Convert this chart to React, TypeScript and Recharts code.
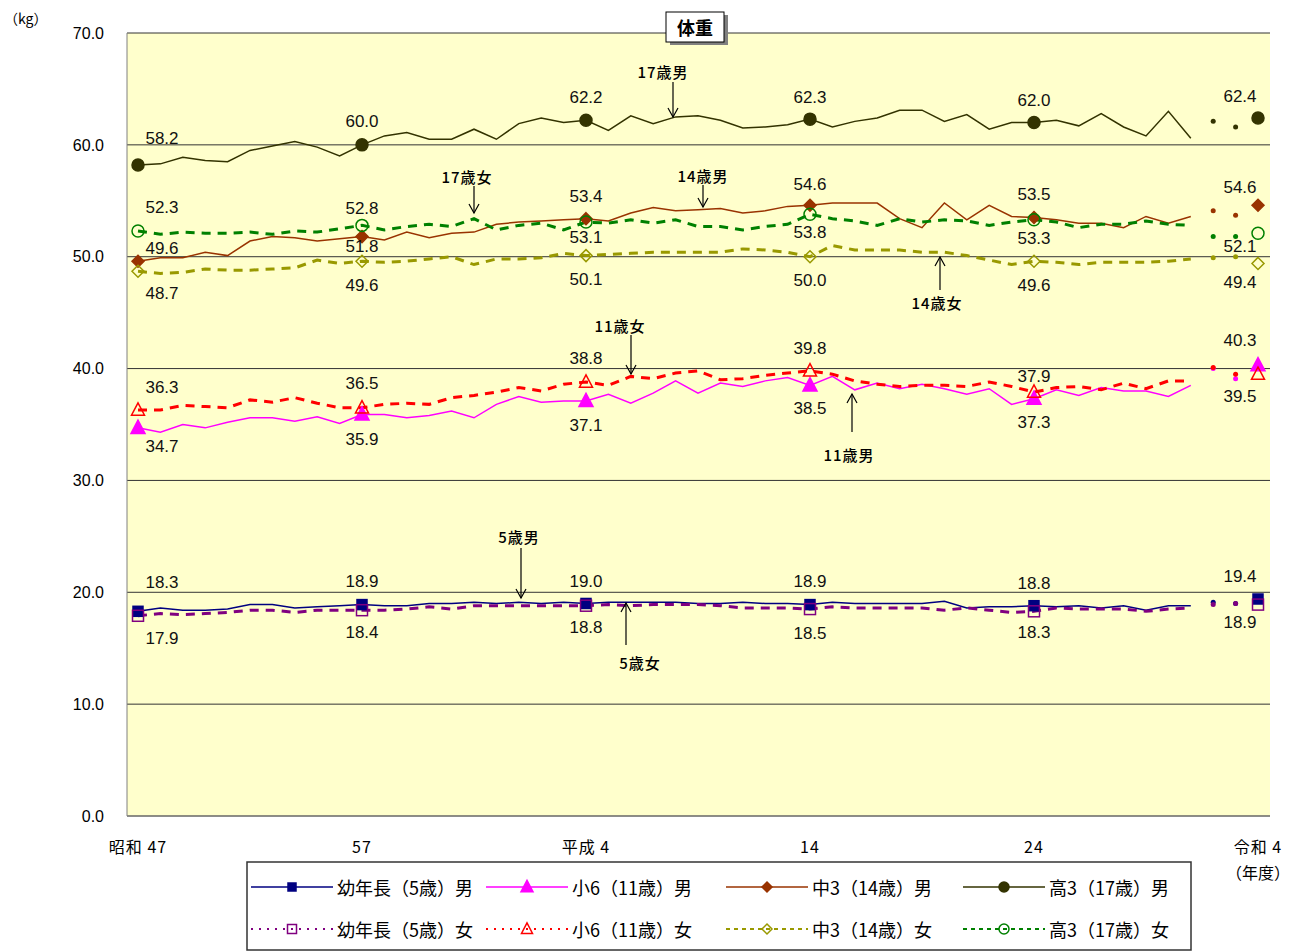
import React from "react";
import { LineChart, Line, XAxis, YAxis, CartesianGrid } from "recharts";

// 昭和47年度〜令和4年度
const years = [
  1972, 1973, 1974, 1975, 1976, 1977, 1978, 1979, 1980, 1981,
  1982, 1983, 1984, 1985, 1986, 1987, 1988, 1989, 1990, 1991,
  1992, 1993, 1994, 1995, 1996, 1997, 1998, 1999, 2000, 2001,
  2002, 2003, 2004, 2005, 2006, 2007, 2008, 2009, 2010, 2011,
  2012, 2013, 2014, 2015, 2016, 2017, 2018, 2019, 2020, 2021,
  2022,
];

const xTickLabels: Record<number, string> = {
  1972: "昭和 47",
  1982: "57",
  1992: "平成 4",
  2002: "14",
  2012: "24",
  2022: "令和 4",
};

const yTicks = [0, 10, 20, 30, 40, 50, 60, 70];

const male5 = [
  18.3, 18.6, 18.4, 18.4, 18.5, 18.9, 18.9, 18.6, 18.7, 18.8,
  18.9, 18.8, 18.8, 19.0, 19.0, 19.1, 19.0, 19.1, 19.0, 19.1,
  19.0, 19.1, 19.1, 19.1, 19.1, 19.0, 19.0, 19.1, 19.0, 19.0,
  18.9, 19.1, 19.0, 19.0, 19.0, 19.0, 19.2, 18.6, 18.7, 18.7,
  18.8, 18.7, 18.8, 18.6, 18.8, 18.4, 18.8, 18.8, 19.1, 19.0,
  19.4,
];
const female5 = [
  17.9, 18.1, 18.0, 18.1, 18.2, 18.4, 18.4, 18.2, 18.4, 18.4,
  18.4, 18.4, 18.5, 18.7, 18.5, 18.8, 18.8, 18.8, 18.8, 18.8,
  18.8, 18.9, 18.8, 18.9, 18.9, 18.9, 18.8, 18.6, 18.6, 18.6,
  18.5, 18.7, 18.6, 18.6, 18.6, 18.6, 18.4, 18.6, 18.4, 18.2,
  18.3, 18.6, 18.5, 18.5, 18.5, 18.3, 18.5, 18.6, 18.9, 19.0,
  18.9,
];
const male11 = [
  34.7, 34.3, 35.0, 34.7, 35.2, 35.6, 35.6, 35.3, 35.7, 35.1,
  35.9, 35.9, 35.6, 35.8, 36.2, 35.6, 36.8, 37.5, 37.0, 37.1,
  37.1, 37.7, 36.9, 37.8, 38.9, 37.8, 38.7, 38.4, 38.9, 39.2,
  38.5, 39.3, 38.1, 38.7, 38.2, 38.6, 38.2, 37.7, 38.2, 36.8,
  37.3, 38.1, 37.6, 38.3, 38.0, 38.0, 37.5, 38.5, 40.0, 39.1,
  40.3,
];
const female11 = [
  36.3, 36.3, 36.7, 36.6, 36.5, 37.2, 37.0, 37.4, 36.9, 36.5,
  36.5, 36.8, 36.9, 36.8, 37.4, 37.6, 37.9, 38.3, 38.0, 38.6,
  38.8, 38.5, 39.3, 39.1, 39.6, 39.8, 39.0, 39.1, 39.4, 39.6,
  39.8, 39.5, 38.9, 38.6, 38.4, 38.5, 38.5, 38.4, 38.8, 38.4,
  37.9, 38.3, 38.4, 38.1, 38.7, 38.2, 38.9, 38.9, 40.1, 39.5,
  39.5,
];
const male14 = [
  49.6, 49.9, 49.9, 50.4, 50.1, 51.4, 51.8, 51.7, 51.4, 51.6,
  51.8, 51.5, 52.2, 51.7, 52.1, 52.2, 52.9, 53.1, 53.2, 53.3,
  53.4, 53.2, 53.9, 54.4, 54.1, 54.2, 54.3, 53.9, 54.1, 54.5,
  54.6, 54.8, 54.8, 54.8, 53.4, 52.6, 54.8, 53.3, 54.6, 53.6,
  53.5, 53.3, 53.0, 53.0, 52.6, 53.6, 53.0, 53.6, 54.1, 53.7,
  54.6,
];
const female14 = [
  48.7, 48.5, 48.6, 48.9, 48.8, 48.8, 48.9, 49.0, 49.7, 49.4,
  49.6, 49.5, 49.6, 49.8, 50.0, 49.3, 49.8, 49.8, 49.9, 50.3,
  50.1, 50.2, 50.3, 50.4, 50.4, 50.4, 50.4, 50.7, 50.6, 50.4,
  50.0, 51.0, 50.6, 50.6, 50.6, 50.4, 50.4, 50.1, 49.7, 49.3,
  49.6, 49.5, 49.3, 49.5, 49.5, 49.5, 49.6, 49.8, 49.9, 50.0,
  49.4,
];
const male17 = [
  58.2, 58.3, 58.9, 58.6, 58.5, 59.5, 59.9, 60.3, 59.8, 59.0,
  60.0, 60.8, 61.1, 60.5, 60.5, 61.4, 60.5, 61.9, 62.4, 62.0,
  62.2, 61.3, 62.6, 61.9, 62.5, 62.6, 62.2, 61.5, 61.6, 61.8,
  62.3, 61.6, 62.1, 62.4, 63.1, 63.1, 62.1, 62.7, 61.4, 62.0,
  62.0, 62.2, 61.7, 62.8, 61.6, 60.8, 63.0, 60.6, 62.1, 61.6,
  62.4,
];
const female17 = [
  52.3, 52.0, 52.2, 52.1, 52.1, 52.2, 52.0, 52.3, 52.2, 52.5,
  52.8, 52.4, 52.7, 52.9, 52.7, 53.4, 52.4, 52.8, 53.0, 52.4,
  53.1, 53.0, 53.3, 53.0, 53.3, 52.7, 52.7, 52.4, 52.7, 52.9,
  53.8, 53.4, 53.2, 52.8, 53.4, 53.1, 53.3, 53.2, 52.8, 53.1,
  53.3, 53.1, 52.6, 52.9, 52.9, 53.2, 52.9, 52.8, 51.8, 51.8,
  52.1,
];

type Shape = "square" | "triangle" | "diamond" | "circle";

interface SeriesDef {
  key: string;
  name: string;
  color: string;
  dash?: string;
  legendDash?: string;
  width: number;
  shape: Shape;
  filled: boolean;
  size: number;
  values: number[];
  // label centre offset from marker, for 1972/82/92/2002/12/22
  labelDy: number[];
}

const series: SeriesDef[] = [
  { key: "m5", name: "幼年長（5歳）男", color: "#000080", width: 1.5, shape: "square", filled: true, size: 10, values: male5, labelDy: [-29, -23, -22, -23, -22, -22] },
  { key: "m11", name: "小6（11歳）男", color: "#FF00FF", width: 1.5, shape: "triangle", filled: true, size: 14, values: male11, labelDy: [19, 25, 24, 23, 24, -25] },
  { key: "m14", name: "中3（14歳）男", color: "#993300", width: 1.5, shape: "diamond", filled: true, size: 12, values: male14, labelDy: [-13, 10, -22, -21, -23, -18] },
  { key: "m17", name: "高3（17歳）男", color: "#333300", width: 1.5, shape: "circle", filled: true, size: 12, values: male17, labelDy: [-26, -23, -23, -22, -22, -22] },
  { key: "f5", name: "幼年長（5歳）女", color: "#800080", dash: "9 7", legendDash: "2 6", width: 3, shape: "square", filled: false, size: 11, values: female5, labelDy: [23, 22, 22, 24, 21, 18] },
  { key: "f11", name: "小6（11歳）女", color: "#FF0000", dash: "9 7", legendDash: "2 6", width: 3, shape: "triangle", filled: false, size: 13, values: female11, labelDy: [-22, -24, -23, -22, -16, 22] },
  { key: "f14", name: "中3（14歳）女", color: "#999900", dash: "9 7", legendDash: "4 4", width: 3, shape: "diamond", filled: false, size: 12, values: female14, labelDy: [22, 24, 24, 24, 24, 19] },
  { key: "f17", name: "高3（17歳）女", color: "#008000", dash: "9 7", legendDash: "4 4", width: 3, shape: "circle", filled: false, size: 12, values: female17, labelDy: [-23, -17, 15, 18, 19, 13] },
];

const notes = [
  { text: "17歳男", tx: 663, ty: 71, x: 673, y1: 82, y2: 117 },
  { text: "17歳女", tx: 467, ty: 176, x: 474, y1: 186, y2: 213 },
  { text: "14歳男", tx: 703, ty: 175, x: 703, y1: 185, y2: 207 },
  { text: "14歳女", tx: 937, ty: 302, x: 940, y1: 290, y2: 257 },
  { text: "11歳女", tx: 620, ty: 325, x: 631, y1: 335, y2: 374 },
  { text: "11歳男", tx: 849, ty: 454, x: 852, y1: 432, y2: 394 },
  { text: "5歳男", tx: 519, ty: 536, x: 521, y1: 548, y2: 598 },
  { text: "5歳女", tx: 640, ty: 662, x: 626, y1: 645, y2: 603 },
];

const LAST_LINE_IDX = 47; // 2019
const MARK_IDX = [0, 10, 20, 30, 40, 50];

const rows = years.map((year, i) => {
  const r: Record<string, number | null> = { year };
  series.forEach((s) => {
    r[s.key] = i <= LAST_LINE_IDX ? s.values[i] : null;
    r[s.key + "R"] = i > LAST_LINE_IDX ? s.values[i] : null;
  });
  return r;
});

const numFont = "'Liberation Sans', Arial, sans-serif";
const jpFont = "'Noto Sans CJK JP', 'Noto Sans', sans-serif";

function Marker({ shape, cx, cy, color, filled, size }: { shape: Shape; cx: number; cy: number; color: string; filled: boolean; size: number }) {
  const fill = filled ? color : "none";
  const h = size / 2;
  if (shape === "square")
    return <rect x={cx - h} y={cy - h} width={size} height={size} fill={fill} stroke={color} strokeWidth={1.5} />;
  if (shape === "triangle")
    return <polygon points={`${cx},${cy - h * 1.1} ${cx - h},${cy + h * 0.8} ${cx + h},${cy + h * 0.8}`} fill={fill} stroke={color} strokeWidth={1.5} />;
  if (shape === "diamond")
    return <polygon points={`${cx},${cy - h} ${cx + h},${cy} ${cx},${cy + h} ${cx - h},${cy}`} fill={fill} stroke={color} strokeWidth={1.5} />;
  return <circle cx={cx} cy={cy} r={h} fill={fill} stroke={color} strokeWidth={1.5} />;
}

function makeDot(s: SeriesDef) {
  return (props: any) => {
    const { cx, cy, index, value } = props;
    const k = `${s.key}-${index}`;
    if (cx == null || cy == null || value == null) return <g key={k} />;
    if (index === 48 || index === 49) {
      return <circle key={k} cx={cx} cy={cy} r={2.5} fill={s.color} />;
    }
    const m = MARK_IDX.indexOf(index);
    if (m < 0) return <g key={k} />;
    const dx = index === 0 ? 24 : index === 50 ? -18 : 0;
    return (
      <g key={k}>
        <Marker shape={s.shape} cx={cx} cy={cy} color={s.color} filled={s.filled} size={s.size} />
        <text
          x={cx + dx}
          y={cy + s.labelDy[m]}
          textAnchor="middle"
          dominantBaseline="central"
          fontSize={17}
          fontFamily={numFont}
          fill="#111"
        >
          {Number(value).toFixed(1)}
        </text>
      </g>
    );
  };
}

function XTick(props: any) {
  const { x, y, payload } = props;
  const label = xTickLabels[payload.value];
  if (!label) return null;
  return (
    <g>
      <text x={x} y={y + 30} textAnchor="middle" dominantBaseline="central" fontSize={16} fontFamily={jpFont} fill="#000" letterSpacing={1}>
        {label}
      </text>
      {payload.value === 2022 && (
        <text x={x} y={y + 56} textAnchor="middle" dominantBaseline="central" fontSize={16} fontFamily={jpFont} fill="#000">
          （年度）
        </text>
      )}
    </g>
  );
}

function Overlay() {
  const cols = [251, 486, 726, 963];
  const rowsY = [887, 929];
  return (
    <svg width={1298} height={952} style={{ position: "absolute", left: 0, top: 0, pointerEvents: "none" }}>
      {/* unit */}
      <text x={4} y={18} fontSize={14} fontFamily={jpFont} dominantBaseline="central" fill="#000">（kg）</text>
      {/* title */}
      <rect x={670} y={15} width={58} height={30} fill="#808080" />
      <rect x={666} y={12} width={58} height={30} fill="#fff" stroke="#000" strokeWidth={1} />
      <text x={695} y={27} textAnchor="middle" dominantBaseline="central" fontSize={18} fontWeight="bold" fontFamily={jpFont} fill="#000">体重</text>
      {/* annotations */}
      {notes.map((n) => {
        const down = n.y2 > n.y1;
        const a = down ? -9 : 9;
        return (
          <g key={n.text}>
            <text x={n.tx} y={n.ty} textAnchor="middle" dominantBaseline="central" fontSize={15} fontWeight={500} fontFamily={jpFont} fill="#000" letterSpacing={1}>
              {n.text}
            </text>
            <line x1={n.x} y1={n.y1} x2={n.x} y2={n.y2} stroke="#000" strokeWidth={1.2} />
            <path d={`M${n.x - 5},${n.y2 + a} L${n.x},${n.y2} L${n.x + 5},${n.y2 + a}`} fill="none" stroke="#000" strokeWidth={1.2} />
          </g>
        );
      })}
      {/* legend */}
      <rect x={247} y={862} width={944} height={88} fill="#fff" stroke="#333" strokeWidth={1.5} />
      {series.map((s, i) => {
        const x = cols[i % 4];
        const y = rowsY[Math.floor(i / 4)];
        return (
          <g key={s.key}>
            <line x1={x} y1={y} x2={x + 82} y2={y} stroke={s.color} strokeWidth={s.dash ? 2 : 1.5} strokeDasharray={s.legendDash} />
            <Marker shape={s.shape} cx={x + 41} cy={y} color={s.color} filled={s.filled} size={s.size - 2} />
            <text x={x + 86} y={y} dominantBaseline="central" fontSize={18} fontFamily={jpFont} fill="#000">
              {s.name}
            </text>
          </g>
        );
      })}
    </svg>
  );
}

export default function App() {
  return (
    <div style={{ position: "absolute", left: 0, top: 0, width: 1298, height: 952, background: "#fff" }}>
      <LineChart width={1298} height={952} data={rows} margin={{ top: 33, right: 28, bottom: 106, left: 0 }}>
        <CartesianGrid vertical={false} stroke="#333" strokeWidth={1} fill="#FFFFCC" />
        <XAxis
          dataKey="year"
          interval={9}
          padding={{ left: 11, right: 12 }}
          tick={<XTick />}
          tickLine={false}
          tickSize={0}
          tickMargin={0}
          height={30}
          axisLine={{ stroke: "#808080" }}
        />
        <YAxis
          domain={[0, 70]}
          ticks={yTicks}
          width={127}
          tickLine={false}
          tickSize={0}
          tickMargin={23}
          tickFormatter={(v: number) => v.toFixed(1)}
          tick={{ fontSize: 16, fill: "#000", fontFamily: numFont }}
          axisLine={{ stroke: "#808080" }}
        />
        {series.map((s) => (
          <Line
            key={s.key}
            dataKey={s.key}
            type="linear"
            stroke={s.color}
            strokeWidth={s.width}
            strokeDasharray={s.dash}
            dot={makeDot(s)}
            activeDot={false}
            isAnimationActive={false}
          />
        ))}
        {series.map((s) => (
          <Line
            key={s.key + "R"}
            dataKey={s.key + "R"}
            type="linear"
            stroke="none"
            dot={makeDot(s)}
            activeDot={false}
            isAnimationActive={false}
          />
        ))}
      </LineChart>
      <Overlay />
    </div>
  );
}
